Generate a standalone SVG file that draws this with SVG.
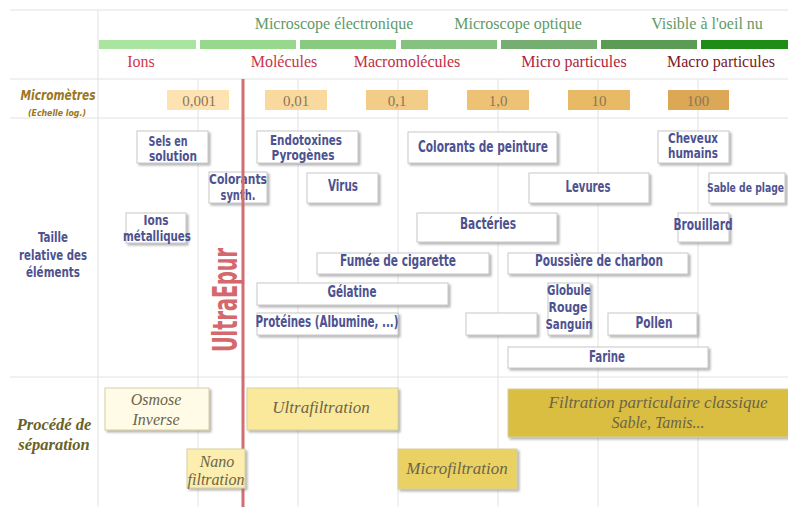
<svg xmlns="http://www.w3.org/2000/svg" width="788" height="507" viewBox="0 0 788 507">
<defs>
<filter id="sh" x="-10%" y="-20%" width="130%" height="160%">
<feDropShadow dx="2" dy="2" stdDeviation="1.3" flood-color="#777" flood-opacity="0.55"/>
</filter>
<style>
.grid{stroke:#e2e2e2;stroke-width:1;fill:none}
.scope{font-family:"Liberation Serif",serif;font-size:16px;fill:#5f9a68;text-anchor:middle}
.cat{font-family:"Liberation Serif",serif;font-size:16px;text-anchor:middle}
.num{font-family:"Liberation Serif",serif;font-size:15px;fill:#8a7658;text-anchor:middle}
.el rect{fill:#fff;stroke:#c8c8c8;stroke-width:1;filter:url(#sh)}
.el text,.lbl{font-family:"DejaVu Sans Condensed","Liberation Sans",sans-serif;font-weight:bold;font-size:16px;fill:#4d5290;text-anchor:middle}
.el text.m,.lbl{font-size:14.5px}
.el text.e{text-anchor:end;font-size:13px}
.proc rect{stroke:#d8cfa0;stroke-width:1;filter:url(#sh)}
.proc text{font-family:"Liberation Serif",serif;font-style:italic;font-size:17px;fill:#6e6448;text-anchor:middle}
.proc text.m{font-size:16px}
</style>
</defs>
<rect width="788" height="507" fill="#fff"/>
<g id="grid" class="grid">
<line x1="10" y1="10" x2="788" y2="10"/>
<line x1="10" y1="79" x2="788" y2="79"/>
<line x1="10" y1="118" x2="788" y2="118"/>
<line x1="10" y1="377" x2="788" y2="377"/>
<line x1="98" y1="10" x2="98" y2="507"/>
<line x1="198" y1="79" x2="198" y2="507"/>
<line x1="298" y1="79" x2="298" y2="507"/>
<line x1="398" y1="79" x2="398" y2="507"/>
<line x1="498" y1="79" x2="498" y2="507"/>
<line x1="598" y1="79" x2="598" y2="507"/>
<line x1="698" y1="79" x2="698" y2="507"/>
</g>
<g id="scopes">
<text class="scope" x="334" y="29">Microscope électronique</text>
<text class="scope" x="518" y="29">Microscope optique</text>
<text class="scope" x="707" y="29">Visible à l'oeil nu</text>
</g>
<g id="bars">
<rect x="99" y="40" width="97" height="9" fill="#a9e59f"/>
<rect x="200" y="40" width="96" height="9" fill="#97d88d"/>
<rect x="300" y="40" width="96" height="9" fill="#88cb80"/>
<rect x="401" y="40" width="96" height="9" fill="#86c17f"/>
<rect x="501" y="40" width="96" height="9" fill="#76ad70"/>
<rect x="601" y="40" width="96" height="9" fill="#5b9b54"/>
<rect x="701" y="40" width="87" height="9" fill="#1f8c18"/>
</g>
<g id="categories">
<text class="cat" x="141" y="67" fill="#cc3a4e">Ions</text>
<text class="cat" x="284" y="67" fill="#c8334a">Molécules</text>
<text class="cat" x="407" y="67" fill="#c02e44">Macromolécules</text>
<text class="cat" x="574" y="67" fill="#b0263c">Micro particules</text>
<text class="cat" x="721" y="67" fill="#7a1828">Macro particules</text>
</g>
<g id="scale">
<text x="58" y="100" font-family="DejaVu Sans Condensed,sans-serif" font-weight="bold" font-style="italic" font-size="14" fill="#9a7622" text-anchor="middle" textLength="75" lengthAdjust="spacingAndGlyphs">Micromètres</text>
<text x="57" y="116" font-family="DejaVu Sans Condensed,sans-serif" font-weight="bold" font-style="italic" font-size="9" fill="#9a7622" text-anchor="middle" textLength="58" lengthAdjust="spacingAndGlyphs">(Echelle log.)</text>
<rect x="167" y="90" width="62" height="20" fill="#fde3b2"/>
<rect x="265" y="90" width="62" height="20" fill="#f9d99e"/>
<rect x="366" y="90" width="62" height="20" fill="#f3cd88"/>
<rect x="467" y="90" width="62" height="20" fill="#eec275"/>
<rect x="568" y="90" width="62" height="20" fill="#e8ba66"/>
<rect x="668" y="90" width="61" height="20" fill="#dca855"/>
<text class="num" x="199" y="106">0,001</text>
<text class="num" x="296" y="106">0,01</text>
<text class="num" x="397" y="106">0,1</text>
<text class="num" x="498" y="106">1,0</text>
<text class="num" x="599" y="106">10</text>
<text class="num" x="698" y="106">100</text>
</g>
<g id="labels">
<text class="lbl" x="53" y="242" textLength="30" lengthAdjust="spacingAndGlyphs">Taille</text>
<text class="lbl" x="53" y="260" textLength="68" lengthAdjust="spacingAndGlyphs">relative des</text>
<text class="lbl" x="53" y="277" textLength="54" lengthAdjust="spacingAndGlyphs">éléments</text>
<text x="54" y="430" font-family="Liberation Serif,serif" font-weight="bold" font-style="italic" font-size="16.5" fill="#6a6224" text-anchor="middle">Procédé de</text>
<text x="54" y="450" font-family="Liberation Serif,serif" font-weight="bold" font-style="italic" font-size="16.5" fill="#6a6224" text-anchor="middle">séparation</text>
</g>
<g id="elements">
<g id="sels" class="el"><rect x="137" y="131" width="71" height="32"/><text class="m" x="168" y="146" textLength="39" lengthAdjust="spacingAndGlyphs">Sels en</text><text class="m" x="173" y="161" textLength="48" lengthAdjust="spacingAndGlyphs">solution</text></g>
<g id="endotoxines" class="el"><rect x="257" y="131" width="101" height="32"/><text class="m" x="306" y="145" textLength="72" lengthAdjust="spacingAndGlyphs">Endotoxines</text><text class="m" x="303" y="160" textLength="63" lengthAdjust="spacingAndGlyphs">Pyrogènes</text></g>
<g id="colorants-synth" class="el"><rect x="209" y="172" width="58" height="31"/><text class="m" x="238" y="184" textLength="58" lengthAdjust="spacingAndGlyphs">Colorants</text><text class="m" x="238" y="200" textLength="35" lengthAdjust="spacingAndGlyphs">synth.</text></g>
<g id="virus" class="el"><rect x="307" y="173" width="71" height="30"/><text x="343" y="191" textLength="30" lengthAdjust="spacingAndGlyphs">Virus</text></g>
<g id="ions-metalliques" class="el"><rect x="126" y="213" width="60" height="30"/><text class="m" x="156" y="225" textLength="25" lengthAdjust="spacingAndGlyphs">Ions</text><text class="m" x="157" y="241" textLength="68" lengthAdjust="spacingAndGlyphs">métalliques</text></g>
<g id="colorants-peinture" class="el"><rect x="408" y="132" width="149" height="31"/><text x="483" y="152" textLength="130" lengthAdjust="spacingAndGlyphs">Colorants de peinture</text></g>
<g id="cheveux" class="el"><rect x="658" y="131" width="71" height="32"/><text class="m" x="693" y="143" textLength="50" lengthAdjust="spacingAndGlyphs">Cheveux</text><text class="m" x="693" y="158" textLength="50" lengthAdjust="spacingAndGlyphs">humains</text></g>
<g id="levures" class="el"><rect x="529" y="173" width="120" height="30"/><text x="588" y="192" textLength="45" lengthAdjust="spacingAndGlyphs">Levures</text></g>
<g id="sable" class="el"><rect x="709" y="173" width="76" height="30"/><text class="e" x="784" y="192" textLength="77" lengthAdjust="spacingAndGlyphs">Sable de plage</text></g>
<g id="bacteries" class="el"><rect x="417" y="213" width="140" height="29"/><text x="488" y="229" textLength="56" lengthAdjust="spacingAndGlyphs">Bactéries</text></g>
<g id="brouillard" class="el"><rect x="678" y="213" width="51" height="29"/><text x="703" y="230" textLength="59" lengthAdjust="spacingAndGlyphs">Brouillard</text></g>
<g id="fumee" class="el"><rect x="317" y="253" width="172" height="21"/><text x="398" y="266" textLength="116" lengthAdjust="spacingAndGlyphs">Fumée de cigarette</text></g>
<g id="poussiere" class="el"><rect x="508" y="253" width="180" height="21"/><text x="599" y="266" textLength="128" lengthAdjust="spacingAndGlyphs">Poussière de charbon</text></g>
<g id="gelatine" class="el"><rect x="257" y="283" width="191" height="22"/><text x="352" y="297" textLength="49" lengthAdjust="spacingAndGlyphs">Gélatine</text></g>
<g id="proteines" class="el"><rect x="257" y="313" width="141" height="22"/><text x="327" y="327" textLength="143" lengthAdjust="spacingAndGlyphs">Protéines (Albumine, ...)</text></g>
<g id="vide" class="el"><rect x="466" y="313" width="71" height="22"/></g>
<g id="globule" class="el"><rect x="548" y="283" width="42" height="52"/><text class="m" x="569" y="295" textLength="44" lengthAdjust="spacingAndGlyphs">Globule</text><text class="m" x="568" y="312" textLength="39" lengthAdjust="spacingAndGlyphs">Rouge</text><text class="m" x="569" y="329" textLength="47" lengthAdjust="spacingAndGlyphs">Sanguin</text></g>
<g id="pollen" class="el"><rect x="608" y="313" width="89" height="22"/><text x="654" y="328" textLength="37" lengthAdjust="spacingAndGlyphs">Pollen</text></g>
<g id="farine" class="el"><rect x="508" y="347" width="200" height="21"/><text x="607" y="362" textLength="36" lengthAdjust="spacingAndGlyphs">Farine</text></g>
</g>
<g id="ultraepur">
<line x1="243" y1="79" x2="243" y2="507" stroke="#d06e72" stroke-width="3"/>
<text transform="translate(237,300) rotate(-90)" font-family="DejaVu Sans Condensed,sans-serif" font-weight="bold" font-size="33" fill="#d4686c" text-anchor="middle" textLength="104" lengthAdjust="spacingAndGlyphs">UltraEpur</text>
</g>
<g id="process">
<g id="osmose" class="proc"><rect x="105" y="388" width="104" height="42" fill="#fffbe6"/><text class="m" x="156" y="405" fill="#857b66">Osmose</text><text class="m" x="156" y="425" fill="#857b66">Inverse</text></g>
<g id="ultrafiltration" class="proc"><rect x="247" y="388" width="151" height="42" fill="#fbe99b"/><text x="321" y="413">Ultrafiltration</text></g>
<g id="nano" class="proc"><rect x="187" y="449" width="58" height="39" fill="#fbeeae"/><text class="m" x="217" y="467">Nano</text><text class="m" x="216" y="485">filtration</text></g>
<g id="filtration" class="proc"><rect x="508" y="389" width="285" height="48" fill="#d9be42"/><text class="m" x="658" y="408" fill="#665624" textLength="219" lengthAdjust="spacingAndGlyphs">Filtration particulaire classique</text><text class="m" x="658" y="428" fill="#665624">Sable, Tamis...</text></g>
<g id="micro" class="proc"><rect x="398" y="449" width="119" height="40" fill="#e9d163"/><text x="457" y="474">Microfiltration</text></g>
</g>
</svg>
